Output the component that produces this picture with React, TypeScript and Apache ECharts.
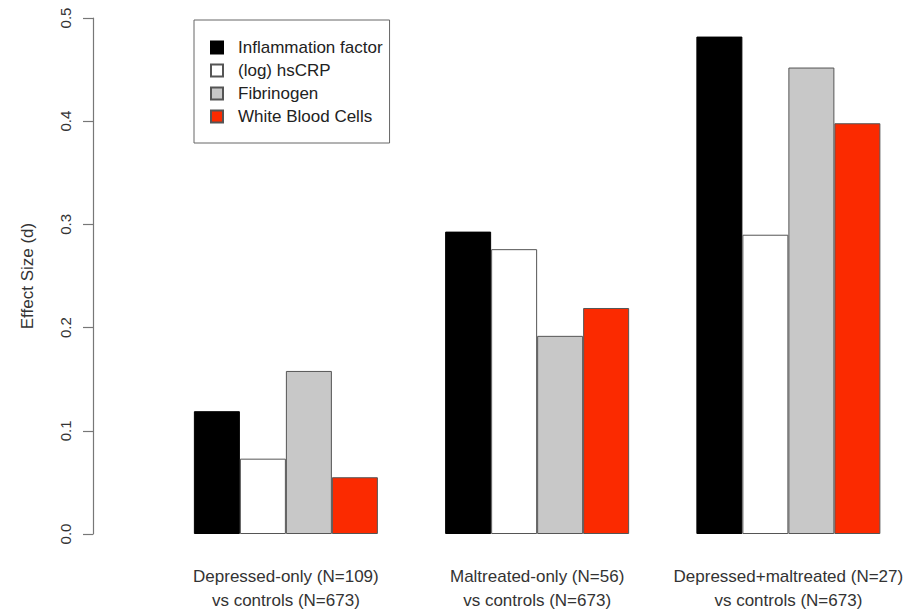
import React, { useEffect, useRef } from "react";
import * as echarts from "echarts";

const categories = [
  "Depressed-only (N=109)\nvs controls (N=673)",
  "Maltreated-only (N=56)\nvs controls (N=673)",
  "Depressed+maltreated (N=27)\nvs controls (N=673)",
];
const seriesNames = ["Inflammation factor", "(log) hsCRP", "Fibrinogen", "White Blood Cells"];
const inflammation = [0.119, 0.293, 0.482];
const hsCRP = [0.073, 0.276, 0.29];
const fibrinogen = [0.158, 0.192, 0.452];
const wbc = [0.055, 0.219, 0.398];
const yTicks = [0, 0.1, 0.2, 0.3, 0.4, 0.5];

const colors = ["#000000", "#ffffff", "#c8c8c8", "#fb2a00"];

export default function App() {
  const ref = useRef<HTMLDivElement>(null);
  useEffect(() => {
    if (!ref.current) return;
    const chart = echarts.init(ref.current, undefined, { renderer: "svg" });
    const values = [inflammation, hsCRP, fibrinogen, wbc];
    const font = "Liberation Sans, Arial, sans-serif";
    chart.setOption({
      animation: false,
      backgroundColor: "#ffffff",
      textStyle: { fontFamily: font },
      grid: { left: 160.25, right: -3.75, top: 18, bottom: 80, containLabel: false },
      legend: {
        orient: "vertical",
        left: 194,
        top: 20,
        padding: [19, 7, 18, 16],
        itemGap: 6,
        itemWidth: 12,
        itemHeight: 12,
        borderColor: "#666666",
        borderWidth: 1,
        icon: "rect",
        textStyle: { fontSize: 17, color: "#222222", fontFamily: font, padding: [0, 0, 0, 10] },
        data: seriesNames,
      },
      xAxis: {
        type: "category",
        data: categories,
        axisLine: { show: false },
        axisTick: { show: false },
        axisLabel: {
          margin: 30,
          fontSize: 17,
          lineHeight: 24,
          color: "#333333",
          fontFamily: font,
          interval: 0,
        },
      },
      yAxis: {
        type: "value",
        min: yTicks[0],
        max: yTicks[yTicks.length - 1],
        interval: 0.1,
        offset: 67.25,
        name: "Effect Size (d)",
        nameLocation: "middle",
        nameGap: 57,
        nameRotate: 90,
        nameTextStyle: { fontSize: 17, color: "#333333", fontFamily: font },
        axisLine: { show: true, lineStyle: { color: "#777777", width: 1.2 } },
        axisTick: { show: true, length: 10, lineStyle: { color: "#777777", width: 1.2 } },
        splitLine: { show: false },
        axisLabel: {
          rotate: 90,
          margin: 20,
          fontSize: 15,
          color: "#333333",
          fontFamily: font,
          formatter: (v: number) => v.toFixed(1),
        },
      },
      series: seriesNames.map((name, i) => ({
        name,
        type: "bar",
        data: values[i],
        barWidth: 46,
        barGap: "0%",
        itemStyle: {
          color: colors[i],
          borderColor: i === 0 ? "#000000" : "#555555",
          borderWidth: 1,
        },
      })),
    });
    return () => chart.dispose();
  }, []);
  return (
    <div
      ref={ref}
      style={{ position: "fixed", left: 0, top: 0, width: 914, height: 614, background: "#fff" }}
    />
  );
}
